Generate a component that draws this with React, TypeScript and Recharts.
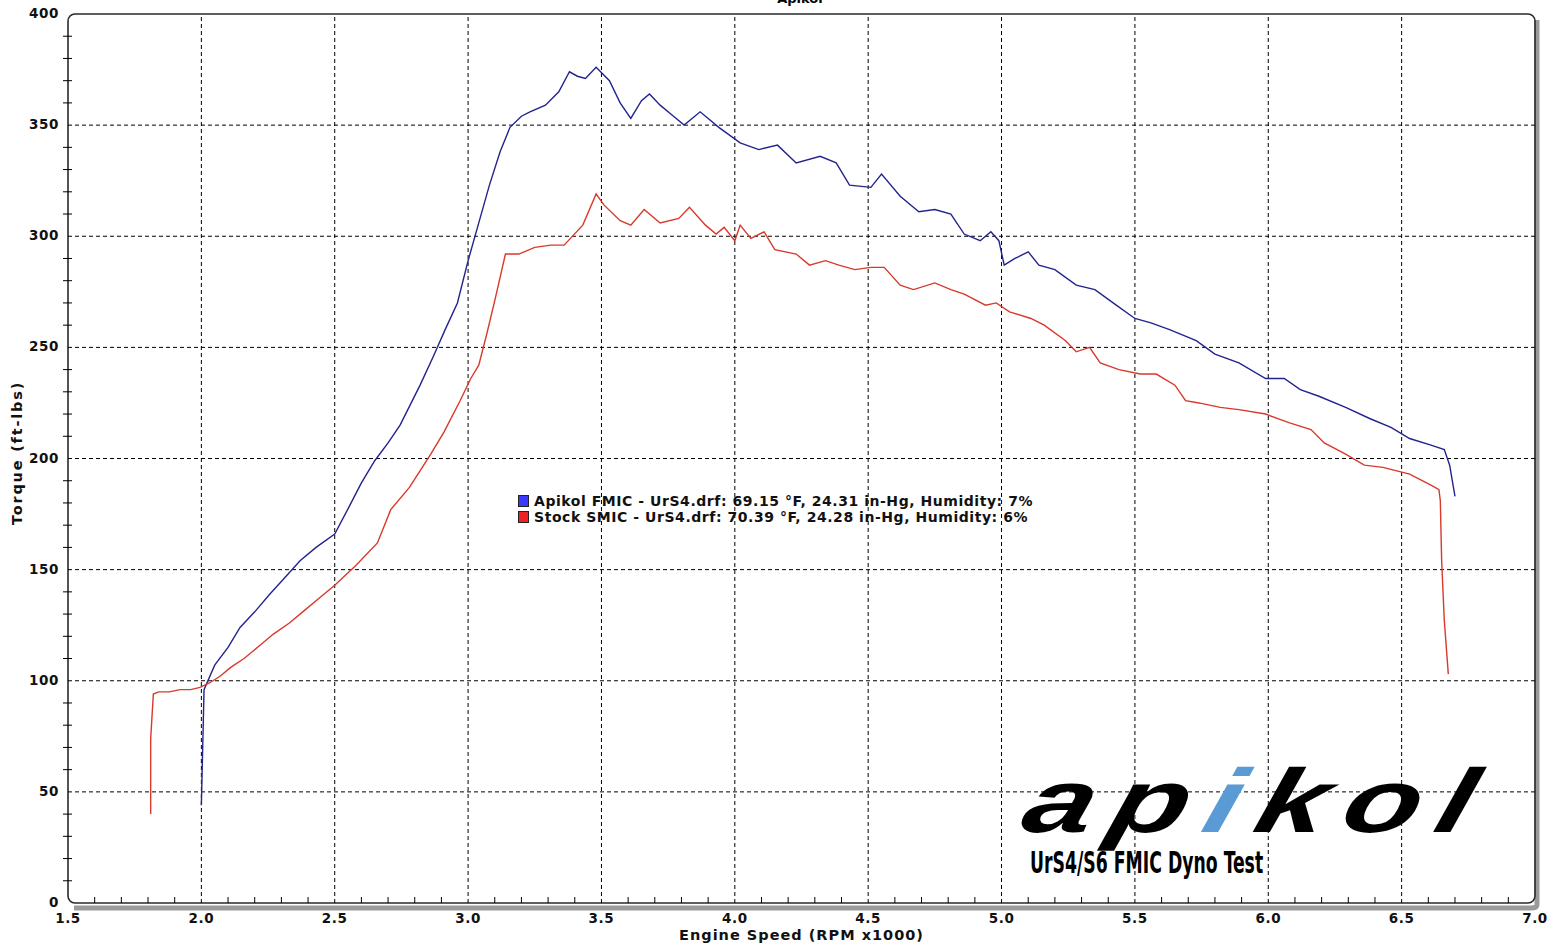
import React from 'react';
import { LineChart, Line, XAxis, YAxis, ReferenceLine, ReferenceArea } from 'recharts';

// Apikol FMIC run (RPM x1000, torque ft-lbs)
const fmicRpm = [2.0, 2.01, 2.05, 2.1, 2.145, 2.2, 2.257, 2.31, 2.37, 2.43, 2.5, 2.557, 2.6, 2.65, 2.7, 2.745, 2.82, 2.87, 2.914, 2.96, 3.0, 3.04, 3.08, 3.12, 3.157, 3.2, 3.232, 3.29, 3.34, 3.38, 3.41, 3.44, 3.48, 3.53, 3.57, 3.61, 3.65, 3.68, 3.72, 3.76, 3.81, 3.87, 3.94, 4.02, 4.09, 4.16, 4.23, 4.32, 4.38, 4.43, 4.51, 4.55, 4.62, 4.69, 4.75, 4.81, 4.86, 4.92, 4.96, 4.99, 5.01, 5.05, 5.1, 5.14, 5.2, 5.28, 5.35, 5.43, 5.5, 5.56, 5.63, 5.73, 5.8, 5.89, 5.99, 6.06, 6.12, 6.19, 6.29, 6.38, 6.46, 6.53, 6.61, 6.66, 6.68, 6.7];
const fmicTq = [44, 96, 107, 115, 124, 131, 139, 146, 154, 160, 166, 179, 189, 199, 207, 215, 233, 246, 258, 270, 289, 306, 323, 338, 349, 354, 356, 359, 365, 374, 372, 371, 376, 370, 360, 353, 361, 364, 359, 355, 350, 356, 349, 342, 339, 341, 333, 336, 333, 323, 322, 328, 318, 311, 312, 310, 301, 298, 302, 298, 287, 290, 293, 287, 285, 278, 276, 269, 263, 261, 258, 253, 247, 243, 236, 236, 231, 228, 223, 218, 214, 209, 206, 204, 197, 183];

// Stock SMIC run
const smicRpm = [1.81, 1.81, 1.82, 1.84, 1.88, 1.92, 1.96, 1.995, 2.03, 2.07, 2.11, 2.16, 2.22, 2.27, 2.33, 2.38, 2.43, 2.5, 2.58, 2.66, 2.71, 2.78, 2.86, 2.91, 2.97, 3.01, 3.04, 3.07, 3.1, 3.14, 3.19, 3.25, 3.31, 3.36, 3.43, 3.48, 3.51, 3.57, 3.61, 3.66, 3.72, 3.79, 3.83, 3.89, 3.93, 3.96, 4.0, 4.02, 4.06, 4.11, 4.15, 4.23, 4.28, 4.34, 4.39, 4.45, 4.51, 4.56, 4.62, 4.67, 4.75, 4.81, 4.86, 4.94, 4.98, 5.03, 5.11, 5.16, 5.24, 5.28, 5.33, 5.37, 5.44, 5.52, 5.58, 5.65, 5.69, 5.74, 5.82, 5.89, 5.99, 6.08, 6.16, 6.21, 6.29, 6.36, 6.43, 6.53, 6.61, 6.64, 6.645, 6.65, 6.66, 6.675];
const smicTq = [40, 74, 94, 95, 95, 96, 96, 97, 99, 102, 106, 110, 116, 121, 126, 131, 136, 143, 152, 162, 177, 187, 202, 212, 226, 236, 242, 256, 271, 292, 292, 295, 296, 296, 305, 319, 314, 307, 305, 312, 306, 308, 313, 305, 301, 304, 298, 305, 299, 302, 294, 292, 287, 289, 287, 285, 286, 286, 278, 276, 279, 276, 274, 269, 270, 266, 263, 260, 253, 248, 250, 243, 240, 238, 238, 233, 226, 225, 223, 222, 220, 216, 213, 207, 202, 197, 196, 193, 188, 186, 181, 154, 127, 103];

const xMajor = [1.5, 2.0, 2.5, 3.0, 3.5, 4.0, 4.5, 5.0, 5.5, 6.0, 6.5, 7.0];
const yMajor = [0, 50, 100, 150, 200, 250, 300, 350, 400];

const xTicks: number[] = [];
for (let i = 0; i <= 55; i++) xTicks.push(+(1.5 + i * 0.1).toFixed(1));
const yTicks: number[] = [];
for (let i = 0; i <= 40; i++) yTicks.push(i * 10);

const fmicData = fmicRpm.map((r, i) => ({ rpm: r, tq: fmicTq[i] }));
const smicData = smicRpm.map((r, i) => ({ rpm: r, tq: smicTq[i] }));

const FONT = 'Verdana, "DejaVu Sans", sans-serif';
const BLUE = '#23238f';
const RED = '#d8392b';

const isMajorX = (v: number) => xMajor.some((m) => Math.abs(m - v) < 1e-6);

const XTick = (props: any) => {
    const { x, y, payload } = props;
    const major = isMajorX(payload.value);
    return (
        <g>
            {!major && <line x1={x} x2={x} y1={y - 6} y2={y} stroke="#000" strokeWidth={1} />}
            {major && (
                <text x={x} y={y + 20} textAnchor="middle" fontFamily={FONT} fontWeight="bold" fontSize={13.5} letterSpacing={0.6} fill="#111">
                    {payload.value.toFixed(1)}
                </text>
            )}
        </g>
    );
};

const YTick = (props: any) => {
    const { x, y, payload } = props;
    const major = payload.value % 50 === 0;
    return (
        <g>
            {!major && <line x1={x - 5} x2={x + 4} y1={y} y2={y} stroke="#000" strokeWidth={1} />}
            {major && (
                <text x={x - 9} y={y + 4} textAnchor="end" fontFamily={FONT} fontWeight="bold" fontSize={13.5} letterSpacing={0.6} fill="#111">
                    {payload.value}
                </text>
            )}
        </g>
    );
};

const Frame = (props: any) => {
    const { x, y, width, height } = props;
    return (
        <g>
            <path
                d={`M${x + width + 2},${y + 6} L${x + width + 2},${y + height + 2} Q${x + width + 2},${y + height + 5} ${x + width - 4},${y + height + 5} L${x + 6},${y + height + 5}`}
                fill="none"
                stroke="#9a9a9a"
                strokeWidth={5}
            />
            <rect x={x} y={y} width={width} height={height} rx={7} ry={7} fill="none" stroke="#2a2a2a" strokeWidth={1.6} />
        </g>
    );
};

const App: React.FC = () => {
    return (
        <div style={{ position: 'absolute', left: 0, top: 0, width: 1562, height: 951, background: '#fff', overflow: 'hidden', fontFamily: FONT }}>
            <div style={{ position: 'absolute', top: -9, left: 0, width: 1600, textAlign: 'center', fontWeight: 'bold', fontSize: 13 }}>
                Apikol
            </div>
            <LineChart width={1562} height={951} margin={{ top: 14, right: 27, left: 0, bottom: 0 }}>
                <XAxis
                    type="number"
                    dataKey="rpm"
                    domain={[1.5, 7]}
                    ticks={xTicks}
                    interval={0}
                    tick={<XTick />}
                    tickLine={false}
                    tickSize={0}
                    tickMargin={0}
                    axisLine={false}
                    height={48}
                    allowDataOverflow
                />
                <YAxis
                    type="number"
                    domain={[0, 400]}
                    ticks={yTicks}
                    interval={0}
                    tick={<YTick />}
                    tickLine={false}
                    tickSize={0}
                    tickMargin={0}
                    axisLine={false}
                    width={68}
                    allowDataOverflow
                />
                {xMajor.slice(1, -1).map((v) => (
                    <ReferenceLine key={'x' + v} x={v} stroke="#000" strokeDasharray="4 3" strokeWidth={1} />
                ))}
                {yMajor.slice(1, -1).map((v) => (
                    <ReferenceLine key={'y' + v} y={v} stroke="#000" strokeDasharray="4 3" strokeWidth={1} />
                ))}
                <ReferenceArea x1={1.5} x2={7} y1={0} y2={400} shape={<Frame />} />
                <Line
                    data={fmicData}
                    dataKey="tq"
                    type="linear"
                    stroke={BLUE}
                    strokeWidth={1.4}
                    dot={false}
                    isAnimationActive={false}
                />
                <Line
                    data={smicData}
                    dataKey="tq"
                    type="linear"
                    stroke={RED}
                    strokeWidth={1.4}
                    dot={false}
                    isAnimationActive={false}
                />
            </LineChart>

            {/* axis titles */}
            <div style={{ position: 'absolute', top: 927, left: 68, width: 1467, textAlign: 'center', fontWeight: 'bold', fontSize: 14.5, letterSpacing: 1, color: '#111' }}>
                Engine Speed (RPM x1000)
            </div>
            <div
                style={{
                    position: 'absolute',
                    left: 17,
                    top: 453,
                    transform: 'translate(-50%, -50%) rotate(-90deg)',
                    whiteSpace: 'nowrap',
                    fontWeight: 'bold',
                    fontSize: 14.5,
                    letterSpacing: 1.8,
                    color: '#111',
                }}
            >
                Torque (ft-lbs)
            </div>

            {/* legend */}
            <div style={{ position: 'absolute', left: 518, top: 493, fontWeight: 'bold', fontSize: 14, letterSpacing: 0.55, lineHeight: '16px', color: '#111', whiteSpace: 'nowrap' }}>
                <div>
                    <span style={{ display: 'inline-block', width: 9, height: 10, background: '#3a3aff', border: '1px solid #222', marginRight: 5, verticalAlign: -1 }} />
                    Apikol FMIC - UrS4.drf: 69.15 °F, 24.31 in-Hg, Humidity: 7%
                </div>
                <div>
                    <span style={{ display: 'inline-block', width: 9, height: 10, background: '#ee2222', border: '1px solid #222', marginRight: 5, verticalAlign: -1 }} />
                    Stock SMIC - UrS4.drf: 70.39 °F, 24.28 in-Hg, Humidity: 6%
                </div>
            </div>

            {/* logo */}
            <div
                style={{
                    position: 'absolute',
                    left: 1014,
                    top: 756,
                    height: 90,
                    fontFamily: '"Liberation Sans", Arial, sans-serif',
                    fontWeight: 900,
                    fontStyle: 'italic',
                    fontSize: 90,
                    letterSpacing: 12,
                    color: '#000',
                    transform: 'skewX(-16deg) scaleX(1.4)',
                    transformOrigin: 'left bottom',
                    lineHeight: '90px',
                    whiteSpace: 'nowrap',
                }}
            >
                ap<span style={{ color: '#5b9bd5' }}>i</span>kol
            </div>
            <div
                style={{
                    position: 'absolute',
                    left: 1030,
                    top: 846,
                    fontFamily: '"Liberation Sans Narrow", "DejaVu Sans Condensed", sans-serif',
                    fontWeight: 'bold',
                    fontSize: 30,
                    lineHeight: '34px',
                    transform: 'scaleX(0.64)',
                    transformOrigin: 'left top',
                    color: '#000',
                    whiteSpace: 'nowrap',
                }}
            >
                UrS4/S6 FMIC Dyno Test
            </div>
        </div>
    );
};

export default App;
